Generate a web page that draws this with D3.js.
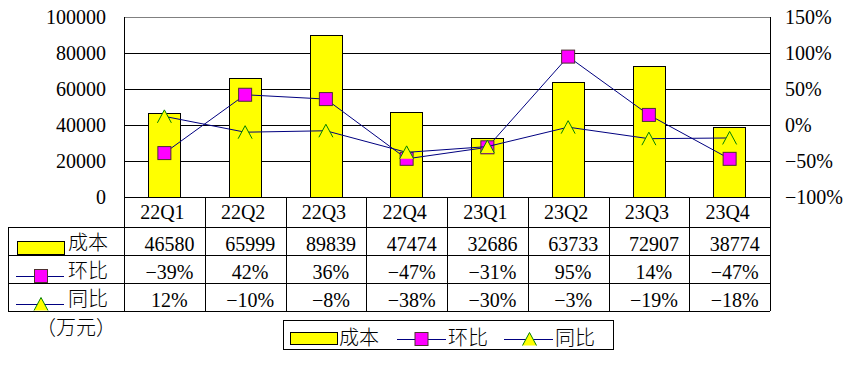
<!DOCTYPE html>
<html>
<head>
<meta charset="utf-8">
<script src="https://cdn.jsdelivr.net/npm/d3@7"></script>
<style>
  body { margin: 0; background: #fff; }
  text { font-family: "Liberation Serif", "Noto Sans CJK SC", serif; font-size: 20px; fill: #000; }
  .cjk { font-family: "Noto Sans CJK SC", sans-serif; font-size: 20px; font-weight: 300; }
</style>
</head>
<body>
<div id="viz"></div>
<script>
    // data
    var quarters = ['22Q1', '22Q2', '22Q3', '22Q4', '23Q1', '23Q2', '23Q3', '23Q4'];
    var cost = [46580, 65999, 89839, 47474, 32686, 63733, 72907, 38774];
    var qoq = [-39, 42, 36, -47, -31, 95, 14, -47];
    var yoy = [12, -10, -8, -38, -30, -3, -19, -18];
    var leftTicks = [0, 20000, 40000, 60000, 80000, 100000];
    var rightTicks = [-100, -50, 0, 50, 100, 150];
    var seriesNames = ['成本', '环比', '同比'];
    var unitLabel = '（万元）';

    var width = 847;
    var height = 368;

    var plot = { left: 124, right: 770, top: 17, bottom: 197 };
    var rowH = 28;
    var catRowBottom = 227;
    var tableLeft = 8;

    var navy = '#000080';

    var svg = d3.select('#viz')
        .append('svg')
        .attr('width', width)
        .attr('height', height);

    var xScale = d3.scaleBand()
        .domain(quarters)
        .range([plot.left, plot.right])
        .paddingInner(0.6)
        .paddingOuter(0.3);

    var yLeft = d3.scaleLinear()
        .domain([0, 100000])
        .range([plot.bottom, plot.top]);

    var yRight = d3.scaleLinear()
        .domain([-100, 150])
        .range([plot.bottom, plot.top]);

    var step = xScale.step();
    var colX = function(i) { return plot.left + i * step; };
    var cx = function(q) { return xScale(q) + xScale.bandwidth() / 2; };
    var fmtPct = function(v) { return (v < 0 ? '\u2212' + Math.abs(v) : v) + '%'; };

    // gridlines
    svg.append('g')
        .selectAll('line')
        .data(leftTicks.slice(1))
        .enter()
        .append('line')
        .attr('x1', plot.left)
        .attr('x2', plot.right)
        .attr('y1', d => Math.round(yLeft(d)) + 0.5)
        .attr('y2', d => Math.round(yLeft(d)) + 0.5)
        .attr('stroke', d => d === 100000 ? '#808080' : '#000')
        .attr('stroke-width', 1);

    // left axis labels
    svg.append('g')
        .selectAll('text')
        .data(leftTicks)
        .enter()
        .append('text')
        .attr('x', 106)
        .attr('y', d => yLeft(d))
        .attr('dy', '0.33em')
        .attr('text-anchor', 'end')
        .text(d => d);

    // right axis labels
    svg.append('g')
        .selectAll('text')
        .data(rightTicks)
        .enter()
        .append('text')
        .attr('x', 785)
        .attr('y', d => yRight(d))
        .attr('dy', '0.33em')
        .text(d => fmtPct(d));

    // bars
    svg.append('g')
        .selectAll('rect')
        .data(quarters)
        .enter()
        .append('rect')
        .attr('x', d => Math.round(xScale(d)) + 0.5)
        .attr('y', (d, i) => Math.round(yLeft(cost[i])) + 0.5)
        .attr('width', Math.round(xScale.bandwidth()))
        .attr('height', (d, i) => Math.round(plot.bottom - yLeft(cost[i])))
        .attr('fill', '#ffff00')
        .attr('stroke', '#000')
        .attr('stroke-width', 1);

    // table grid
    var grid = svg.append('g').attr('stroke', '#000').attr('stroke-width', 1);
    var hLines = [
        [plot.left, plot.right, plot.bottom],
        [tableLeft, plot.right, catRowBottom],
        [tableLeft, plot.right, catRowBottom + rowH],
        [tableLeft, plot.right, catRowBottom + rowH * 2],
        [tableLeft, plot.right, catRowBottom + rowH * 3]
    ];
    hLines.forEach(function(l) {
        grid.append('line')
            .attr('x1', l[0]).attr('x2', l[1])
            .attr('y1', l[2] + 0.5).attr('y2', l[2] + 0.5);
    });
    d3.range(quarters.length + 1).forEach(function(i) {
        var x = Math.round(colX(i)) + 0.5;
        var top = (i === 0 || i === quarters.length) ? plot.top : plot.bottom;
        grid.append('line')
            .attr('x1', x).attr('x2', x)
            .attr('y1', top).attr('y2', catRowBottom + rowH * 3);
    });
    grid.append('line')
        .attr('x1', tableLeft + 0.5).attr('x2', tableLeft + 0.5)
        .attr('y1', catRowBottom).attr('y2', catRowBottom + rowH * 3);

    // category labels
    svg.append('g')
        .selectAll('text')
        .data(quarters)
        .enter()
        .append('text')
        .attr('x', d => cx(d) - 2)
        .attr('y', 219)
        .attr('text-anchor', 'middle')
        .text(d => d);

    // table values
    var rows = [
        cost.map(String),
        qoq.map(fmtPct),
        yoy.map(fmtPct)
    ];
    rows.forEach(function(vals, r) {
        svg.append('g')
            .selectAll('text')
            .data(vals)
            .enter()
            .append('text')
            .attr('x', (d, i) => cx(quarters[i]) + 5)
            .attr('y', catRowBottom + rowH * (r + 1) - 4)
            .attr('text-anchor', 'middle')
            .text(d => d);
    });

    // marker helpers
    function square(g, x, y) {
        g.append('rect')
            .attr('x', x - 6.5).attr('y', y - 6.5)
            .attr('width', 13).attr('height', 13)
            .attr('fill', '#ff00ff')
            .attr('stroke', '#4d3030')
            .attr('stroke-width', 1);
    }
    function triangle(g, x, y) {
        g.append('path')
            .attr('d', 'M' + (x - 7) + ',' + (y + 6.5) + 'L' + x + ',' + (y - 6.5) + 'L' + (x + 7) + ',' + (y + 6.5))
            .attr('fill', '#ffff00')
            .attr('stroke', '#008000')
            .attr('stroke-width', 1);
    }

    var line = d3.line()
        .x((d, i) => cx(quarters[i]))
        .y(d => yRight(d));

    // 环比 line and markers
    var gQ = svg.append('g');
    gQ.append('path')
        .attr('d', line(qoq))
        .attr('fill', 'none')
        .attr('stroke', navy)
        .attr('stroke-width', 1);
    qoq.forEach((v, i) => square(gQ, cx(quarters[i]), yRight(v)));

    // 同比 line and markers
    var gY = svg.append('g');
    gY.append('path')
        .attr('d', line(yoy))
        .attr('fill', 'none')
        .attr('stroke', navy)
        .attr('stroke-width', 1);
    yoy.forEach((v, i) => triangle(gY, cx(quarters[i]), yRight(v)));

    // legend keys inside the table
    var tk = svg.append('g');
    tk.append('rect')
        .attr('x', 17.5).attr('y', 241.5).attr('width', 47).attr('height', 13)
        .attr('fill', '#ffff00').attr('stroke', '#000');
    tk.append('line')
        .attr('x1', 16).attr('x2', 64).attr('y1', 276.5).attr('y2', 276.5)
        .attr('stroke', navy);
    square(tk, 41, 276);
    tk.append('line')
        .attr('x1', 16).attr('x2', 64).attr('y1', 304.5).attr('y2', 304.5)
        .attr('stroke', navy);
    triangle(tk, 41, 304);

    seriesNames.forEach(function(name, r) {
        svg.append('text')
            .attr('class', 'cjk')
            .attr('x', 68)
            .attr('y', catRowBottom + rowH * (r + 1) - 5)
            .text(name);
    });

    svg.append('text')
        .attr('class', 'cjk')
        .attr('x', 36)
        .attr('y', 335)
        .text(unitLabel);

    // legend
    var lg = svg.append('g');
    lg.append('rect')
        .attr('x', 283.5).attr('y', 320.5).attr('width', 330).attr('height', 29)
        .attr('fill', '#fff').attr('stroke', '#000');
    lg.append('rect')
        .attr('x', 290.5).attr('y', 332.5).attr('width', 47).attr('height', 12)
        .attr('fill', '#ffff00').attr('stroke', '#000');
    lg.append('text').attr('class', 'cjk').attr('x', 339).attr('y', 345).text(seriesNames[0]);
    lg.append('line')
        .attr('x1', 397).attr('x2', 446).attr('y1', 339.5).attr('y2', 339.5)
        .attr('stroke', navy);
    square(lg, 421.5, 339);
    lg.append('text').attr('class', 'cjk').attr('x', 448).attr('y', 345).text(seriesNames[1]);
    lg.append('line')
        .attr('x1', 504).attr('x2', 553).attr('y1', 339.5).attr('y2', 339.5)
        .attr('stroke', navy);
    triangle(lg, 529.5, 339);
    lg.append('text').attr('class', 'cjk').attr('x', 555).attr('y', 345).text(seriesNames[2]);
</script>
</body>
</html>
